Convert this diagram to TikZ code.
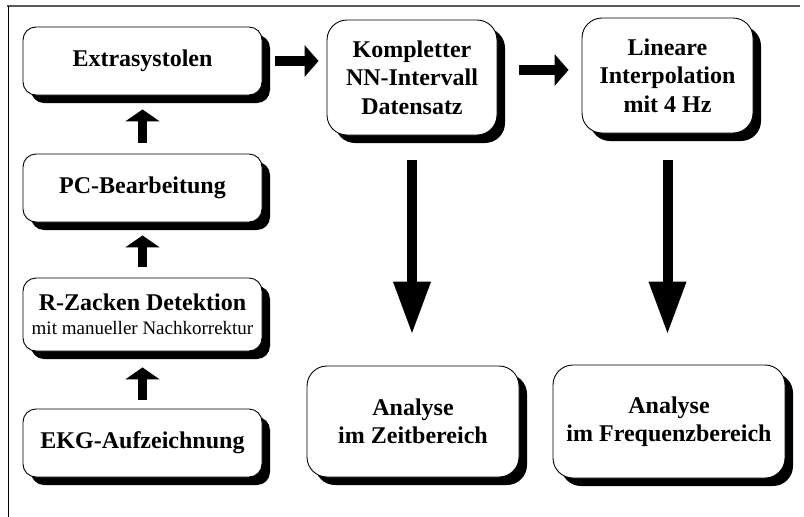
\documentclass[tikz,border=0pt]{standalone}
\usepackage{fontspec}
\setmainfont{Liberation Serif}
\usetikzlibrary{arrows.meta,shadows}

\newcommand{\subline}{\fontsize{19}{22}\selectfont\mdseries}

\begin{document}
\begin{tikzpicture}[
    x=1pt,y=-1pt,
    box/.style={draw,line width=0.9pt,fill=white,rounded corners=13pt,align=center,
        inner sep=0pt,font=\fontsize{24}{28.5}\selectfont\bfseries,
        drop shadow={shadow xshift=8pt,shadow yshift=-8pt,fill=black,opacity=1}},
    bigbox/.style={box,rounded corners=20pt},
    hflow/.style={line width=10pt,-{Triangle[length=14pt,width=31pt]}},
    upflow/.style={line width=9pt,-{Triangle[length=12pt,width=34pt]}},
    downflow/.style={line width=10pt,-{Triangle[length=53pt,width=35pt]}}
]
\useasboundingbox (0,0) rectangle (804,517);

% frame
\draw[gray!70!black,line width=2pt] (7,6) -- (800,6);
\draw[line width=1pt] (8,6) -- (8,517);

% left column
\node[box,minimum width=239pt,minimum height=68pt] (extra) at (142.5,61) {Extrasystolen};
\node[box,minimum width=239pt,minimum height=68pt] (pc) at (142.5,188) {PC-Bearbeitung};
\node[box,minimum width=239pt,minimum height=73pt] (rz) at (142.5,314.5)
    {R-Zacken Detektion\\[-5pt]{\subline mit manueller Nachkorrektur}};
\node[box,minimum width=239pt,minimum height=68pt] (ekg) at (142.5,443) {EKG-Aufzeichnung};

% upper row
\node[bigbox,minimum width=170pt,minimum height=115pt] (komp) at (412,77.5)
    {Kompletter\\NN-Intervall\\Datensatz};
\node[bigbox,minimum width=171pt,minimum height=115pt] (lin) at (667.5,75.5)
    {Lineare\\Interpolation\\mit 4 Hz};

% analysis
\node[bigbox,minimum width=212pt,minimum height=111pt] (zeit) at (413,421.5)
    {Analyse\\im Zeitbereich};
\node[bigbox,minimum width=232pt,minimum height=113pt] (freq) at (669,421.5)
    {Analyse\\im Frequenzbereich};

% flow upwards
\draw[upflow,shorten <=11pt,shorten >=14pt] (pc.north) -- (extra.south);
\draw[upflow,shorten <=11pt,shorten >=13pt] (rz.north) -- (pc.south);
\draw[upflow,shorten <=9pt,shorten >=16pt] (ekg.north) -- (rz.south);

% flow to the right
\draw[hflow,shorten <=13pt,shorten >=8pt] (extra.east) -- (extra.east -| komp.west);
\draw[hflow,shorten <=22pt,shorten >=13pt] ([yshift=7.5pt]komp.east) -- ([yshift=7.5pt]komp.east -| lin.west);

% flow downwards
\draw[downflow,shorten <=25pt,shorten >=31pt] (komp.south) -- (komp.south |- zeit.north);
\draw[downflow,shorten <=27pt,shorten >=30pt] (lin.south) -- (lin.south |- freq.north);

\end{tikzpicture}
\end{document}
